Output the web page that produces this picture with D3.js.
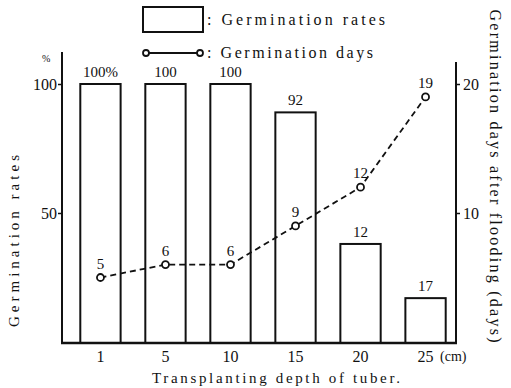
<!DOCTYPE html>
<html><head><meta charset="utf-8">
<script src="https://cdn.jsdelivr.net/npm/d3@7"></script>
</head><body style="margin:0;background:#fff">
<svg id="c" width="511" height="388" font-family="Liberation Serif"></svg>
<script>
const depths = ["1","5","10","15","20","25"];
const rates = [100,100,100,89,38,17];
const rateLabels = ["100%","100","100","92","12","17"];
const days = [5,6,6,9,12,19];
const dayLabels = ["5","6","6","9","12","19"];
const leftTicks = [50,100];
const rightTicks = [10,20];

const svg = d3.select("#c");
const x = d3.scaleBand().domain(depths).range([66,460]).paddingInner(0.38).paddingOuter(0.22);
const yL = d3.scaleLinear().domain([0,100]).range([342,84]);
const yR = d3.scaleLinear().domain([0,20]).range([342,84]);
const ink = "#111";
function T(sel){return sel.attr("font-family","Liberation Serif").style("font-family",d=>'"Liberation Serif"').attr("fill",ink);}

// bars
svg.selectAll("rect.bar").data(rates).join("rect")
  .attr("x",(d,i)=>x(depths[i])).attr("y",d=>yL(d))
  .attr("width",x.bandwidth()).attr("height",d=>yL(0)-yL(d)+1)
  .attr("fill","#fff").attr("stroke",ink).attr("stroke-width",2);
T(svg.selectAll("text.bl").data(rateLabels).join("text")
  .attr("x",(d,i)=>x(depths[i])+x.bandwidth()/2).attr("y",(d,i)=>yL(rates[i])-7)
  .attr("text-anchor","middle").attr("font-size",15).text(d=>d));

// axes
const gL = svg.append("g").attr("transform","translate(62,0)")
  .call(d3.axisLeft(yL).tickValues(leftTicks).tickSize(4));
gL.select(".domain").remove();
svg.append("line").attr("x1",62).attr("x2",62).attr("y1",52).attr("y2",343).attr("stroke",ink).attr("stroke-width",2);
const gR = svg.append("g").attr("transform","translate(456,0)")
  .call(d3.axisRight(yR).tickValues(rightTicks).tickSize(4));
gR.select(".domain").remove();
svg.append("line").attr("x1",456).attr("x2",456).attr("y1",62).attr("y2",343).attr("stroke",ink).attr("stroke-width",2);
[gL,gR].forEach(g=>{g.attr("font-family","Liberation Serif");T(g.selectAll("text").attr("font-size",16));
  g.selectAll("line").attr("stroke",ink).attr("stroke-width",1.5);});
gR.selectAll("text").attr("x",7);
gL.selectAll("text").attr("x",-5);
const gB = svg.append("g").attr("transform","translate(0,343)")
  .call(d3.axisBottom(x).tickSize(0).tickPadding(8));
gB.attr("font-family","Liberation Serif");
gB.select(".domain").remove();
T(gB.selectAll("text").attr("font-size",16));
svg.append("line").attr("x1",61).attr("x2",457).attr("y1",343).attr("y2",343).attr("stroke",ink).attr("stroke-width",2.5);
T(svg.append("text").attr("x",440).attr("y",361).attr("font-size",14).text("(cm)"));
T(svg.append("text").attr("x",152).attr("y",383).attr("font-size",15)
  .attr("textLength",248).attr("lengthAdjust","spacing").text("Transplanting depth of tuber."));
T(svg.append("text").attr("x",42).attr("y",62).attr("font-size",10).text("%"));

// axis titles
T(svg.append("text").attr("transform","translate(19,241) rotate(-90)").attr("text-anchor","middle").attr("font-size",15)
  .attr("textLength",172).attr("lengthAdjust","spacing").text("Germination rates"));
T(svg.append("text").attr("transform","translate(490,176) rotate(90)").attr("text-anchor","middle").attr("font-size",16)
  .attr("textLength",333).attr("lengthAdjust","spacing").text("Germination days after flooding (days)"));

// line
const cx = d=>x(d)+x.bandwidth()/2;
const line = d3.line().x((d,i)=>cx(depths[i])).y(d=>yR(d));
svg.append("path").datum(days).attr("d",line).attr("fill","none").attr("stroke",ink)
  .attr("stroke-width",1.8).attr("stroke-dasharray","6,4");
svg.selectAll("circle.pt").data(days).join("circle")
  .attr("cx",(d,i)=>cx(depths[i])).attr("cy",d=>yR(d)).attr("r",3.5)
  .attr("fill","#fff").attr("stroke",ink).attr("stroke-width",1.8);
T(svg.selectAll("text.dl").data(dayLabels).join("text")
  .attr("x",(d,i)=>cx(depths[i])).attr("y",(d,i)=>yR(days[i])-9)
  .attr("text-anchor","middle").attr("font-size",15).text(d=>d));

// legend
svg.append("rect").attr("x",143).attr("y",7).attr("width",60).attr("height",25).attr("fill","#fff").attr("stroke",ink).attr("stroke-width",2);
T(svg.append("text").attr("x",207).attr("y",25).attr("font-size",16)
  .attr("textLength",178).attr("lengthAdjust","spacing").text(": Germination rates"));
svg.append("line").attr("x1",146).attr("x2",200).attr("y1",53).attr("y2",53).attr("stroke",ink).attr("stroke-width",1.8);
[146,200].forEach(px=>svg.append("circle").attr("cx",px).attr("cy",53).attr("r",3).attr("fill","#fff").attr("stroke",ink).attr("stroke-width",1.8));
T(svg.append("text").attr("x",207).attr("y",58).attr("font-size",16)
  .attr("textLength",166).attr("lengthAdjust","spacing").text(": Germination days"));
</script></body></html>
